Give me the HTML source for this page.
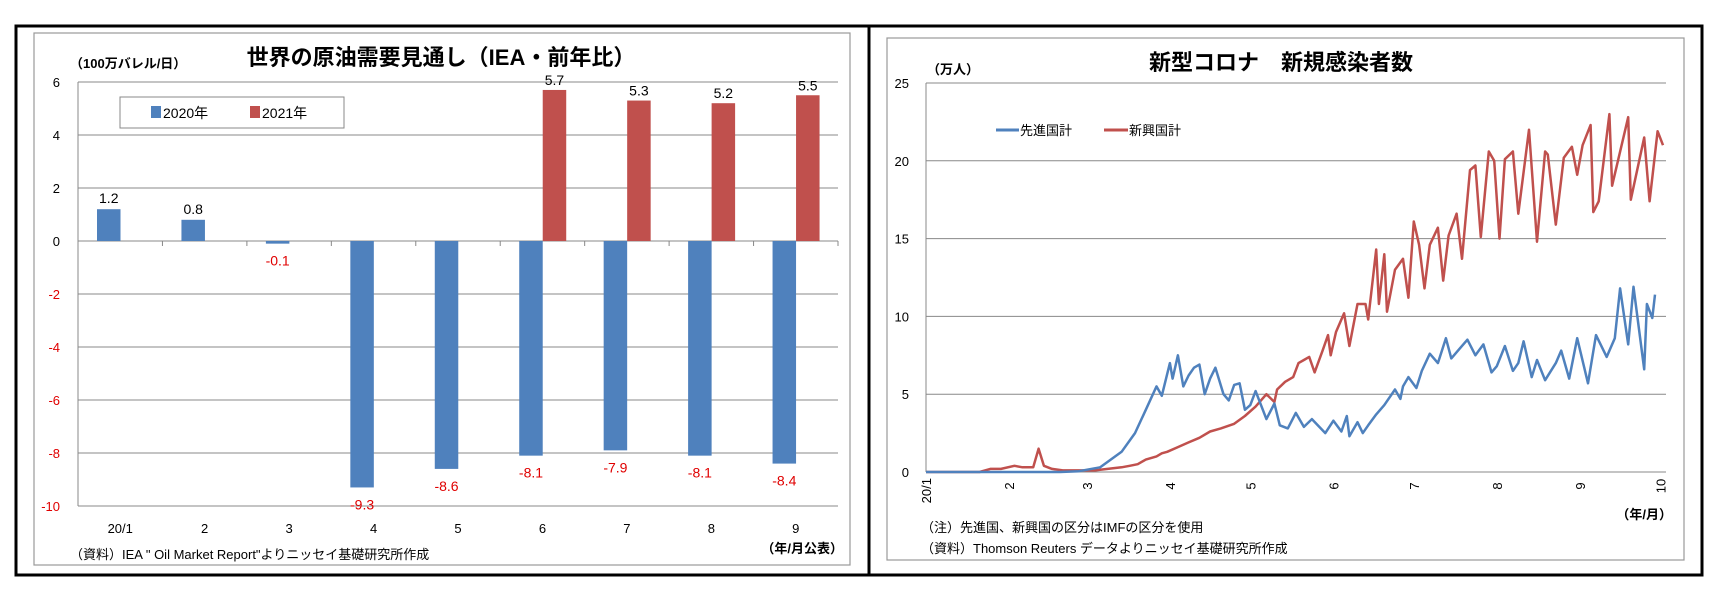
<!DOCTYPE html>
<html><head><meta charset="utf-8">
<style>
body{margin:0;background:#fff;}
svg{display:block;font-family:"Liberation Sans","Noto Sans CJK JP",sans-serif;}
</style></head>
<body>
<svg id="svg" width="1721" height="591" viewBox="0 0 1721 591">
<rect x="16" y="26" width="1686" height="549" fill="none" stroke="#000" stroke-width="3"/>
<line x1="869" y1="26" x2="869" y2="575" stroke="#000" stroke-width="3"/>
<rect x="34" y="33" width="816" height="532" fill="none" stroke="#999" stroke-width="1.2"/>
<rect x="887" y="38" width="797" height="522" fill="none" stroke="#999" stroke-width="1.2"/>
<g id="left"></g>
<g id="right"></g>
</svg>
<script>
// ---- Left chart data ----
const oilCategories = ["20/1","2","3","4","5","6","7","8","9"];
const oil2020 = [1.2,0.8,-0.1,-9.3,-8.6,-8.1,-7.9,-8.1,-8.4];
const oil2021 = [null,null,null,null,null,5.7,5.3,5.2,5.5];
const oilTicks = [6,4,2,0,-2,-4,-6,-8,-10];

// ---- Right chart data ----
const covidTicks = [0,5,10,15,20,25];
const monthLabels = ["20/1","2","3","4","5","6","7","8","9","10"];
const monthDays = [0,31,60,91,121,152,182,213,244,274];
const advDays = [0,30,50,57,65,73,78,82,86,88,91,92,94,96,98,100,102,104,106,108,111,113,115,117,119,121,123,127,130,132,135,138,141,144,149,152,155,157,158,161,163,165,168,171,175,177,178,180,183,185,188,191,194,196,199,202,205,208,211,213,216,219,221,223,226,228,231,235,237,240,243,247,250,254,257,259,262,264,268,269,271,272,275];
const advVals = [0,0,0,0.05,0.3,1.3,2.5,4,5.5,4.9,7,6,7.5,5.5,6.2,6.7,6.9,5,6,6.7,5,4.6,5.6,5.7,4,4.3,5.2,3.4,4.4,3,2.8,3.8,2.9,3.4,2.5,3.3,2.6,3.6,2.3,3.2,2.5,3,3.7,4.3,5.3,4.7,5.5,6.1,5.4,6.5,7.6,7,8.6,7.3,7.9,8.5,7.5,8.2,6.4,6.8,8.1,6.5,7,8.4,6.1,7.2,5.9,7,7.8,6,8.6,5.7,8.8,7.4,8.6,11.8,8.2,11.9,6.6,10.8,9.9,11.4];
const emDays = [0,20,24,28,33,36,40,42,44,47,51,56,63,73,76,79,82,86,88,90,94,98,102,106,110,115,119,123,127,130,131,134,137,139,141,143,145,148,150,151,153,156,158,161,164,165,168,169,171,172,175,178,180,182,184,186,188,191,193,195,198,200,203,205,207,210,212,214,216,219,221,225,228,231,232,235,238,241,243,245,248,249,251,255,256,262,263,268,270,273,275];
const emVals = [0,0,0.2,0.2,0.4,0.3,0.3,1.5,0.4,0.2,0.1,0.1,0.1,0.3,0.4,0.5,0.8,1.0,1.2,1.3,1.6,1.9,2.2,2.6,2.8,3.1,3.6,4.2,5,4.5,5.3,5.8,6.1,7,7.2,7.4,6.4,7.8,8.8,7.5,9,10.2,8.1,10.8,10.8,9.8,14.3,10.8,14,10.3,13,13.7,11.2,16.1,14.6,11.8,14.6,15.7,12.3,15.2,16.6,13.7,19.4,19.7,15.1,20.6,20,15,20.1,20.6,16.6,22,14.8,20.6,20.4,15.9,20.2,20.9,19.1,21,22.3,16.7,17.4,23,18.4,22.8,17.5,21.5,17.4,21.9,21];

const NS="http://www.w3.org/2000/svg";
function mk(parent,tag,attrs,text){const e=document.createElementNS(NS,tag);for(const k in attrs)e.setAttribute(k,attrs[k]);if(text!==undefined)e.textContent=text;parent.appendChild(e);return e;}

// ---------- LEFT ----------
(function(){
const g=document.getElementById('left');
const x0=78,x1=838,catW=(x1-x0)/oilCategories.length;
const yv=v=>241-v*26.5;
let t=mk(g,'text',{x:441,y:65,'text-anchor':'middle','font-size':22,'font-weight':'bold',fill:'#000'},'世界の原油需要見通し（IEA・前年比）');

t=mk(g,'text',{x:70,y:68,'font-size':13,'font-weight':'bold',fill:'#000'},'（100万バレル/日）');

oilTicks.forEach(v=>{
  const l=mk(g,'line',{x1:x0,x2:x1,y1:yv(v),y2:yv(v),stroke:'#888','stroke-width':1});
  
  const tx=mk(g,'text',{x:60,y:yv(v)+5,'text-anchor':'end','font-size':13,fill:v<0?'#e00000':'#000'},String(v));
  
});
const ax=mk(g,'line',{x1:x0,x2:x0,y1:yv(6),y2:yv(-10),stroke:'#888'});

oilCategories.forEach((c,i)=>{
  const cx=x0+i*catW;
  const tk=mk(g,'line',{x1:cx+catW,x2:cx+catW,y1:yv(0),y2:yv(0)+5,stroke:'#888'});
  
  const lb=mk(g,'text',{x:cx+catW/2,y:533,'text-anchor':'middle','font-size':13,fill:'#000'},c);
  
  const v=oil2020[i];
  if(v!==null){
    const bx=cx+19,bw=23.5;
    const r=mk(g,'rect',{x:bx,y:Math.min(yv(v),yv(0)),width:bw,height:Math.abs(yv(v)-yv(0)),fill:'#4f81bd'});
    
    const ly=v>=0?yv(v)-6:yv(v)+22;
    const vl=mk(g,'text',{x:bx+bw/2,y:ly,'text-anchor':'middle','font-size':14,fill:v<0?'#e00000':'#000'},v.toFixed(1));
    
  }
  const w=oil2021[i];
  if(w!==null){
    const bx=cx+42.5,bw=23.5;
    const r=mk(g,'rect',{x:bx,y:Math.min(yv(w),yv(0)),width:bw,height:Math.abs(yv(w)-yv(0)),fill:'#c0504d'});
    
    const vl=mk(g,'text',{x:bx+bw/2,y:yv(w)-5,'text-anchor':'middle','font-size':14,fill:'#000'},w.toFixed(1));
    
  }
});
const lg=mk(g,'g',{});

mk(lg,'rect',{x:120,y:97,width:224,height:31,fill:'#fff',stroke:'#888'});
mk(lg,'rect',{x:151,y:106,width:10,height:12,fill:'#4f81bd'});
let e=mk(lg,'text',{x:163,y:118,'font-size':14,fill:'#000'},'2020年');
mk(lg,'rect',{x:250,y:106,width:10,height:12,fill:'#c0504d'});
e=mk(lg,'text',{x:262,y:118,'font-size':14,fill:'#000'},'2021年');
e=mk(g,'text',{x:70,y:559,'font-size':13,fill:'#000'},'（資料）IEA " Oil Market Report"よりニッセイ基礎研究所作成');

e=mk(g,'text',{x:843,y:553,'text-anchor':'end','font-size':13,'font-weight':'bold',fill:'#000'},'（年/月公表）');

})();

// ---------- RIGHT ----------
(function(){
const g=document.getElementById('right');
const x0=926,x1=1666,dayW=2.68;
const xd=d=>x0+d*dayW;
const yv=v=>472-v*15.56;
let t=mk(g,'text',{x:1281,y:70,'text-anchor':'middle','font-size':22,'font-weight':'bold',fill:'#000'},'新型コロナ　新規感染者数');

t=mk(g,'text',{x:927,y:74,'font-size':13,'font-weight':'bold',fill:'#000'},'（万人）');

covidTicks.forEach(v=>{
  const l=mk(g,'line',{x1:x0,x2:x1,y1:yv(v),y2:yv(v),stroke:'#888','stroke-width':1});
  
  const tx=mk(g,'text',{x:909,y:yv(v)+5,'text-anchor':'end','font-size':13,fill:'#000'},String(v));
  
});
const ax=mk(g,'line',{x1:x0,x2:x0,y1:yv(25),y2:yv(0),stroke:'#888'});

monthLabels.forEach((m,i)=>{
  const x=xd(monthDays[i]);
  const lb=mk(g,'text',{x:0,y:0,'text-anchor':i===0?'end':'middle','font-size':13,fill:'#000',transform:`translate(${x+5},${i===0?478:486}) rotate(-90)`},m);
  
});
function line(days,vals,color,name){
  const d=days.map((dd,i)=>(i?'L':'M')+xd(dd).toFixed(1)+','+yv(vals[i]).toFixed(1)).join('');
  const p=mk(g,'path',{d:d,fill:'none',stroke:color,'stroke-width':2.5,'stroke-linejoin':'round'});
  
}
line(emDays,emVals,'#c0504d','emerging-line');
line(advDays,advVals,'#4f81bd','advanced-line');
const lg=mk(g,'g',{});

mk(lg,'line',{x1:996,x2:1019,y1:130,y2:130,stroke:'#4f81bd','stroke-width':3});
let e=mk(lg,'text',{x:1020,y:135,'font-size':13,fill:'#000'},'先進国計');
mk(lg,'line',{x1:1104,x2:1128,y1:130,y2:130,stroke:'#c0504d','stroke-width':3});
e=mk(lg,'text',{x:1129,y:135,'font-size':13,fill:'#000'},'新興国計');
e=mk(g,'text',{x:1672,y:519,'text-anchor':'end','font-size':13,'font-weight':'bold',fill:'#000'},'（年/月）');

e=mk(g,'text',{x:921,y:532,'font-size':13,fill:'#000'},'（注）先進国、新興国の区分はIMFの区分を使用');

e=mk(g,'text',{x:921,y:553,'font-size':13,fill:'#000'},'（資料）Thomson Reuters データよりニッセイ基礎研究所作成');

})();
</script>
</body></html>
